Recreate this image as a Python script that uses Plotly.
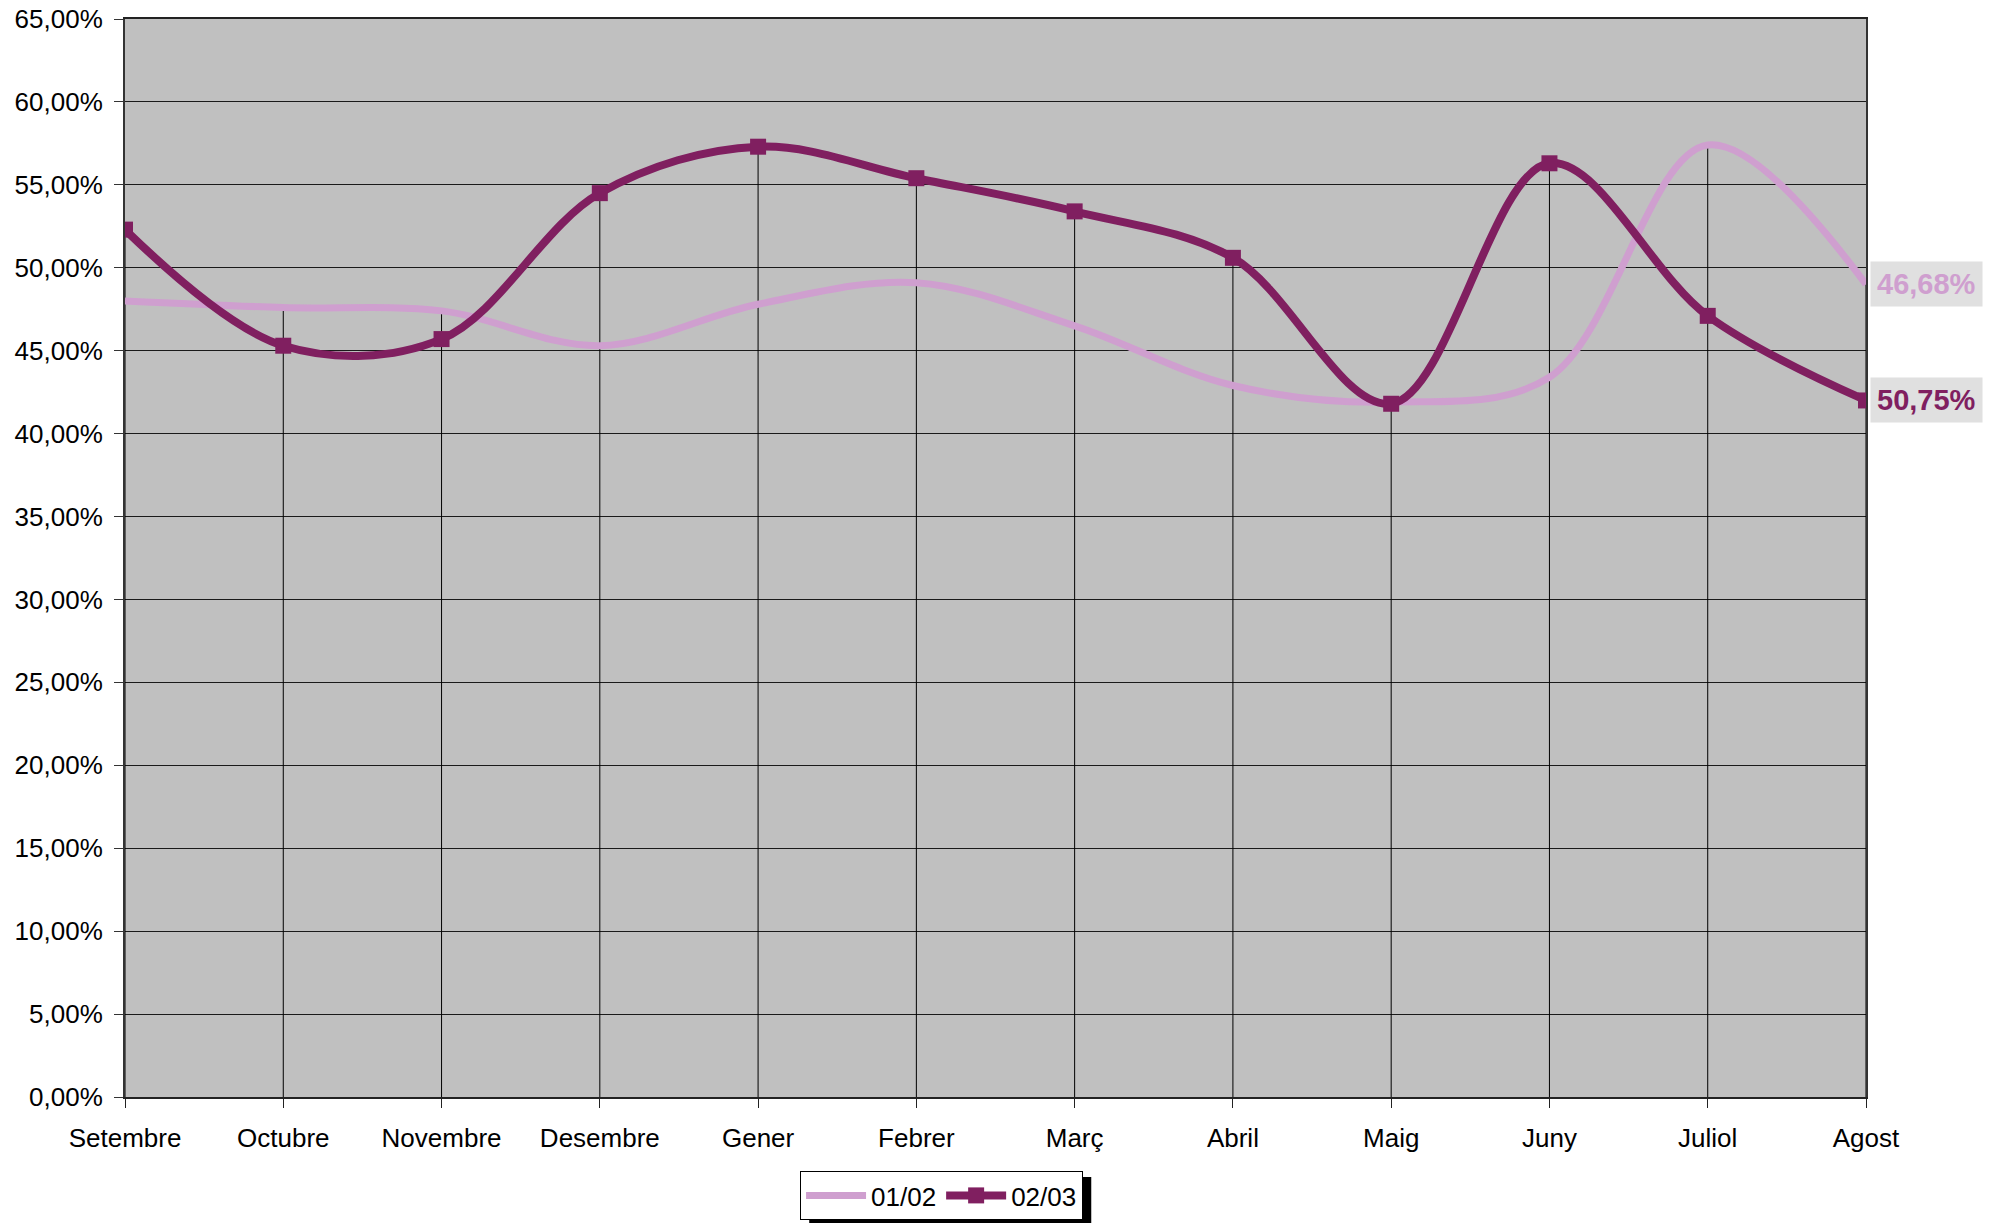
import plotly.graph_objects as go

months = ["Setembre", "Octubre", "Novembre", "Desembre", "Gener", "Febrer",
          "Març", "Abril", "Maig", "Juny", "Juliol", "Agost"]
serie_0102 = [48.0, 47.6, 47.4, 45.3, 47.8, 49.1, 46.5, 42.9, 41.9, 43.4, 57.4, 49.0]
serie_0203 = [52.3, 45.3, 45.7, 54.5, 57.3, 55.4, 53.4, 50.6, 41.8, 56.3, 47.1, 42.0]
end_labels = ["46,68%", "50,75%"]
names = ["01/02", "02/03"]
y_ticks = list(range(0, 66, 5))
y_ticktext = [f"{v},00%" for v in y_ticks]

PINK = "#CF9FCF"
PURPLE = "#801F60"
FONT = "Liberation Sans, Arial"

fig = go.Figure()

# drop lines from highest point down to axis
dx, dy = [], []
for i, m in enumerate(months):
    top = max(serie_0102[i], serie_0203[i])
    dx += [m, m, None]
    dy += [0, top, None]
fig.add_trace(go.Scatter(x=dx, y=dy, mode="lines", line=dict(color="#000000", width=1),
                         showlegend=False, hoverinfo="skip"))

fig.add_trace(go.Scatter(x=months, y=serie_0102, name=names[0], mode="lines",
                         line=dict(color=PINK, width=7, shape="spline", smoothing=1)))
fig.add_trace(go.Scatter(x=months, y=serie_0203, name=names[1], mode="lines+markers",
                         line=dict(color=PURPLE, width=8, shape="spline", smoothing=1),
                         marker=dict(symbol="square", size=16, color=PURPLE)))

for series, lab, col in [(serie_0102, end_labels[0], PINK), (serie_0203, end_labels[1], PURPLE)]:
    fig.add_annotation(x=months[-1], y=series[-1], text="<b>" + lab + "</b>", showarrow=False,
                       xanchor="left", yanchor="middle", xshift=4,
                       font=dict(family=FONT, size=29, color=col),
                       bgcolor="#E0E0E0", borderpad=6)

# legend shadow
fig.add_shape(type="rect", xref="paper", yref="paper",
              x0=0.393, x1=0.555, y0=-0.0742, y1=-0.13,
              fillcolor="black", line=dict(width=0), layer="above")

fig.update_layout(
    width=2005, height=1223,
    margin=dict(l=125, r=139, t=19, b=126, autoexpand=False),
    paper_bgcolor="white", plot_bgcolor="#C0C0C0",
    font=dict(family=FONT, size=26, color="black"),
    showlegend=True,
    legend=dict(orientation="h", xref="container", yref="container",
                x=0.4696, xanchor="center", y=1 - 1171 / 1223, yanchor="top",
                bgcolor="white", bordercolor="black", borderwidth=1,
                font=dict(size=26), itemwidth=60, tracegroupgap=0),
)
fig.update_xaxes(type="category", range=[0, len(months) - 1], showgrid=False,
                 showline=True, linecolor="#222222", linewidth=1.5, mirror=True,
                 ticks="outside", ticklen=9, tickcolor="#222222",
                 ticklabelstandoff=8, automargin=False,
                 tickfont=dict(size=26), zeroline=False)
fig.update_yaxes(range=[0, 65], tickvals=y_ticks, ticktext=y_ticktext,
                 showgrid=True, gridcolor="#1a1a1a", gridwidth=1.2,
                 showline=True, linecolor="#333333", linewidth=2, mirror=True,
                 ticks="outside", ticklen=9, tickcolor="#333333",
                 ticklabelstandoff=6, automargin=False,
                 tickfont=dict(size=26), zeroline=False)

fig.write_html("out.html", config={"displayModeBar": False},
               post_script="document.body.style.margin='0';document.body.style.overflow='hidden';")
